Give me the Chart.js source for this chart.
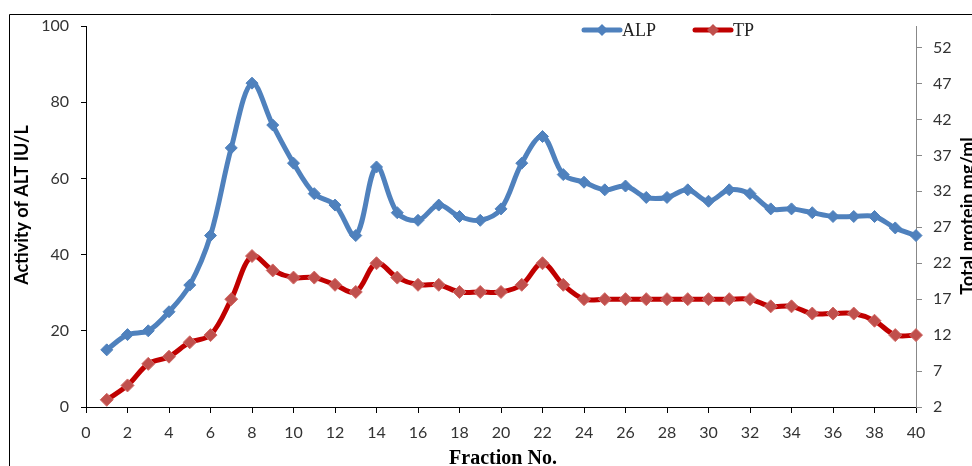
<!DOCTYPE html>
<html lang="en">
<head>
    <meta charset="UTF-8">
    <title>ALP and TP per fraction</title>
    <script src="https://cdn.jsdelivr.net/npm/chart.js"></script>
    <style>
        body { margin: 0; background: #fff; }
        #grafico { display: block; }
    </style>
</head>
<body>
    <canvas id="grafico" width="972" height="466"></canvas>

    <script>
        // fraction numbers
        const fractions = [1, 2, 3, 4, 5, 6, 7, 8, 9, 10, 11, 12, 13, 14, 15, 16, 17, 18, 19, 20,
                           21, 22, 23, 24, 25, 26, 27, 28, 29, 30, 31, 32, 33, 34, 35, 36, 37, 38, 39, 40];
        // ALP activity, left axis (IU/L)
        const alp = [15, 19, 20, 25, 32, 45, 68, 85, 74, 64, 56, 53, 45, 63, 51, 49, 53, 50, 49, 52,
                     64, 71, 61, 59, 57, 58, 55, 55, 57, 54, 57, 56, 52, 52, 51, 50, 50, 50, 47, 45];
        // total protein, right axis (mg/ml)
        const tp = [3, 5, 8, 9, 11, 12, 17, 23, 21, 20, 20, 19, 18, 22, 20, 19, 19, 18, 18, 18,
                    19, 22, 19, 17, 17, 17, 17, 17, 17, 17, 17, 17, 16, 16, 15, 15, 15, 14, 12, 12];
        const leftTicks = [0, 20, 40, 60, 80, 100];
        const rightTicks = [2, 7, 12, 17, 22, 27, 32, 37, 42, 47, 52];
        const xTicks = [0, 2, 4, 6, 8, 10, 12, 14, 16, 18, 20, 22, 24, 26, 28, 30, 32, 34, 36, 38, 40];

        const BLUE = '#4F81BD';
        const RED = '#C00000';
        const RED_MARK = '#C0504D';
        const tickFont = { family: 'Lato', size: 16 };

        function toPoints(ys) {
            return fractions.map((f, i) => ({ x: f, y: ys[i] }));
        }
        function setTicks(list) {
            return scale => { scale.ticks = list.map(v => ({ value: v })); };
        }

        // frame, legend and axis titles drawn by hand
        const extras = {
            id: 'extras',
            beforeDraw(chart) {
                const c = chart.ctx;
                c.save();
                c.strokeStyle = '#000';
                c.lineWidth = 1;
                c.beginPath();
                c.moveTo(9.5, 466);
                c.lineTo(9.5, 14.5);
                c.lineTo(972, 14.5);
                c.stroke();
                c.restore();
            },
            afterDraw(chart) {
                const c = chart.ctx;
                c.save();
                // legend
                const items = [
                    { label: 'ALP', line: BLUE, mark: BLUE, x: 582 },
                    { label: 'TP', line: RED, mark: RED_MARK, x: 693 }
                ];
                items.forEach(it => {
                    c.strokeStyle = it.line;
                    c.lineWidth = 5;
                    c.lineCap = 'round';
                    c.beginPath();
                    c.moveTo(it.x + 2, 30);
                    c.lineTo(it.x + 38, 30);
                    c.stroke();
                    c.fillStyle = it.mark;
                    c.beginPath();
                    c.moveTo(it.x + 20 - 6, 30);
                    c.lineTo(it.x + 20, 24);
                    c.lineTo(it.x + 20 + 6, 30);
                    c.lineTo(it.x + 20, 36);
                    c.closePath();
                    c.fill();
                    c.fillStyle = '#222';
                    c.font = '18px "Liberation Serif"';
                    c.textAlign = 'left';
                    c.textBaseline = 'alphabetic';
                    c.fillText(it.label, it.x + 40, 36);
                });
                // x title
                c.fillStyle = '#000';
                c.font = 'bold 20px "Liberation Serif"';
                c.textAlign = 'center';
                c.fillText('Fraction No.', 503, 464);
                // y titles
                c.font = 'bold 18px Lato';
                c.translate(28, 205);
                c.rotate(-Math.PI / 2);
                c.fillText('Activity of ALT IU/L', 0, 0);
                c.setTransform(1, 0, 0, 1, 0, 0);
                c.translate(974, 216);
                c.rotate(-Math.PI / 2);
                c.fillText('Total protein mg/ml', 0, 0);
                c.restore();
            }
        };

        const ctx = document.getElementById('grafico').getContext('2d');
        const chart = new Chart(ctx, {
            type: 'line',
            data: {
                datasets: [{
                    label: 'ALP',
                    data: toPoints(alp),
                    yAxisID: 'y',
                    borderColor: BLUE,
                    borderWidth: 5,
                    backgroundColor: BLUE,
                    pointStyle: 'rectRot',
                    pointRadius: 6,
                    pointBorderWidth: 1,
                    pointBackgroundColor: BLUE,
                    pointBorderColor: BLUE,
                    tension: 0.35,
                    clip: false
                }, {
                    label: 'TP',
                    data: toPoints(tp),
                    yAxisID: 'y2',
                    borderColor: RED,
                    borderWidth: 5,
                    backgroundColor: RED_MARK,
                    pointStyle: 'rectRot',
                    pointRadius: 6.5,
                    pointBorderWidth: 1,
                    pointBackgroundColor: RED_MARK,
                    pointBorderColor: '#D06864',
                    tension: 0.35,
                    clip: false
                }]
            },
            options: {
                responsive: false,
                animation: false,
                layout: { padding: { top: 26 } },
                plugins: { legend: { display: false }, tooltip: { enabled: false } },
                scales: {
                    x: {
                        type: 'linear',
                        min: 0, max: 40,
                        afterBuildTicks: setTicks(xTicks),
                        afterFit: s => { s.height = 59; },
                        grid: { drawOnChartArea: false, tickLength: 6, color: '#000' },
                        border: { color: '#000', width: 1 },
                        ticks: { font: tickFont, color: '#333', padding: 10, maxRotation: 0, autoSkip: false }
                    },
                    y: {
                        position: 'left',
                        min: 0, max: 100,
                        afterBuildTicks: setTicks(leftTicks),
                        afterFit: s => { s.width = 86; },
                        grid: { drawOnChartArea: false, tickLength: 5, color: '#000' },
                        border: { color: '#000', width: 1 },
                        ticks: { font: tickFont, color: '#333', padding: 12 }
                    },
                    y2: {
                        position: 'right',
                        min: 2, max: 55,
                        afterBuildTicks: setTicks(rightTicks),
                        afterFit: s => { s.width = 56; },
                        grid: { drawOnChartArea: false, tickLength: 6, color: '#888' },
                        border: { color: '#888', width: 1 },
                        ticks: { font: tickFont, color: '#333', padding: 11 }
                    }
                }
            },
            plugins: [extras]
        });
    </script>
</body>
</html>
